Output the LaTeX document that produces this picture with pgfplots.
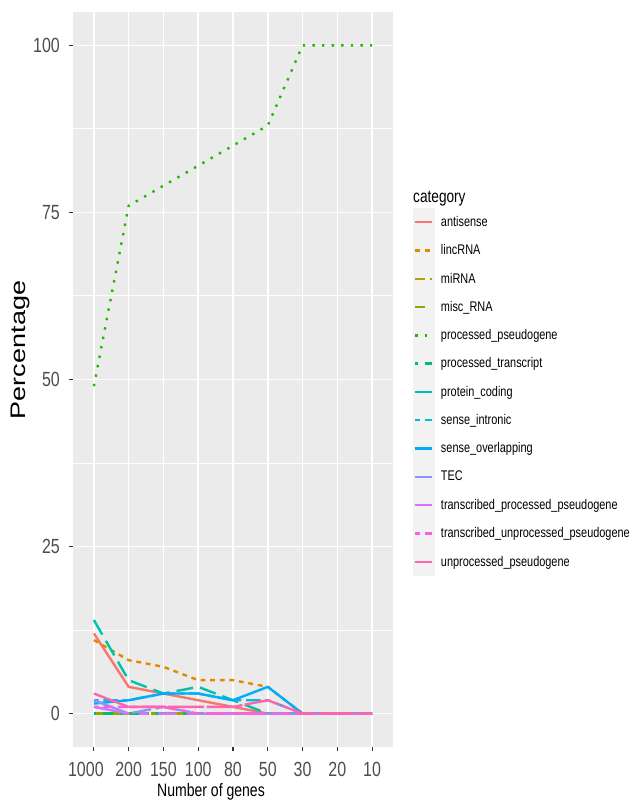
\documentclass[border=0pt]{standalone}
\usepackage{pgfplots}
\pgfplotsset{compat=1.18}
\usepackage{pgfplotstable}
\usepackage{graphicx}
\usepackage{fontspec}
\setmainfont{Liberation Sans}[FakeStretch=0.78]
\newfontfamily\plainsans{Liberation Sans}

\definecolor{c1}{HTML}{F8766D}
\definecolor{c2}{HTML}{E18A00}
\definecolor{c3}{HTML}{BE9C00}
\definecolor{c4}{HTML}{8CAB00}
\definecolor{c5}{HTML}{24B700}
\definecolor{c6}{HTML}{00BE70}
\definecolor{c7}{HTML}{00C1AB}
\definecolor{c8}{HTML}{00BBDA}
\definecolor{c9}{HTML}{00ACFC}
\definecolor{c10}{HTML}{8B93FF}
\definecolor{c11}{HTML}{D575FE}
\definecolor{c12}{HTML}{F962DD}
\definecolor{c13}{HTML}{FF65AC}
\definecolor{panelbg}{HTML}{EBEBEB}
\definecolor{legkey}{HTML}{F2F2F2}
\definecolor{grey20}{HTML}{333333}
\definecolor{grey30}{HTML}{4D4D4D}

\pgfplotstableread{
x a l mi mr pp pt pc si so tec tpp tup up
0 12 11 0 0 49 0 14 2 1.5 2 1 1 3
1 4 8 0 0 76 0 5 2 2 0 0 1 1
2 3 7 0 0 79 0 3 3 3 1 0 1 1
3 2 5 0 0 82 0 4 3 3 0 0 0 1
4 1 5 0 0 85 0 2 2 2 0 0 0 1
5 0 4 0 0 88 0 0 2 4 0 0 0 2
6 0 0 0 0 100 0 0 0 0 0 0 0 0
7 0 0 0 0 100 0 0 0 0 0 0 0 0
8 0 0 0 0 100 0 0 0 0 0 0 0 0
}\datatab

\tikzset{
  gl/.style={line width=2.4bp, line join=round, line cap=butt},
}

\begin{document}
\begin{tikzpicture}
\path[use as bounding box] (-73bp,-54bp) rectangle (561bp,747bp);
\begin{axis}[
  at={(0,0)}, anchor=south west,
  scale only axis, width=320bp, height=735bp,
  xmin=-0.6, xmax=8.6, ymin=-5, ymax=105,
  xtick={0,...,8}, xticklabels={1000\rule{16bp}{0pt},200,150,100,80,50,30,20,10},
  ytick={0,25,50,75,100}, minor ytick={12.5,37.5,62.5,87.5},
  grid=both,
  major grid style={white, line width=1.6bp},
  minor grid style={white, line width=1.0bp},
  axis background/.style={fill=panelbg},
  separate axis lines,
  axis line style={draw=none},
  tick align=outside, major tick length=4bp, minor tick length=0pt,
  xtick pos=bottom, ytick pos=left,
  tick style={color=grey20, line width=1.1bp},
  /pgf/number format/assume math mode=true,
  xticklabel style={font=\fontsize{20.5bp}{22bp}\selectfont, text=grey30, inner sep=0pt, anchor=north, yshift=-11bp},
  yticklabel style={font=\fontsize{20.5bp}{22bp}\selectfont, text=grey30, inner sep=0pt, anchor=east, xshift=-9bp},
  xlabel={Number of genes},
  xlabel style={at={(0.43125,-0.06803)}, anchor=base, font=\fontsize{18bp}{20bp}\selectfont, inner sep=0pt},
  ylabel={\plainsans\fontsize{27bp}{30bp}\selectfont\scalebox{1}[0.78]{Percentage}},
  ylabel style={at={(-0.15,0.54014)}, anchor=base, inner sep=0pt},
  legend style={at={(1.0625,0.73333)}, anchor=north west, draw=none, fill=none,
    inner sep=0pt, outer sep=0pt, row sep=0pt, column sep=6bp,
    font=\fontsize{14bp}{16bp}\selectfont, nodes={inner sep=0pt}},
  legend cell align=left,
  legend image code/.code={\fill[legkey,draw=none] (0bp,-14.15bp) rectangle (22bp,14.15bp); \draw[#1] (2.5bp,0bp) -- (19.5bp,0bp);},
]
\addplot[gl, c1] table[x=x, y=a] {\datatab};
\addlegendentry{antisense}
\addplot[gl, c2, dash pattern=on 4.8bp off 4.8bp] table[x=x, y=l] {\datatab};
\addlegendentry{lincRNA}
\addplot[gl, c3, dash pattern=on 9.6bp off 4.8bp] table[x=x, y=mi] {\datatab};
\addlegendentry{miRNA}
\addplot[gl, c4, dash pattern=on 9.6bp off 9.6bp] table[x=x, y=mr] {\datatab};
\addlegendentry{misc\_RNA}
\addplot[gl, c5, dash pattern=on 2.4bp off 7.2bp] table[x=x, y=pp] {\datatab};
\addlegendentry{processed\_pseudogene}
\addplot[gl, c6, dash pattern=on 2.4bp off 7.2bp on 9.6bp off 7.2bp] table[x=x, y=pt] {\datatab};
\addlegendentry{processed\_transcript}
\addplot[gl, c7, dash pattern=on 16.8bp off 7.2bp] table[x=x, y=pc] {\datatab};
\addlegendentry{protein\_coding}
\addplot[gl, c8, dash pattern=on 4.8bp off 4.8bp on 14.4bp off 4.8bp] table[x=x, y=si] {\datatab};
\addlegendentry{sense\_intronic}
\addplot[gl, c9] table[x=x, y=so] {\datatab};
\addlegendentry{sense\_overlapping}
\addplot[gl, c10, dash pattern=on 36bp off 4.8bp on 19.2bp off 4.8bp] table[x=x, y=tec] {\datatab};
\addlegendentry{TEC}
\addplot[gl, c11, dash pattern=on 36bp off 9.6bp on 9.6bp off 9.6bp on 19.2bp off 9.6bp on 9.6bp off 9.6bp] table[x=x, y=tpp] {\datatab};
\addlegendentry{transcribed\_processed\_pseudogene}
\addplot[gl, c12, dash pattern=on 4.8bp off 4.8bp on 9.6bp off 4.8bp on 19.2bp off 4.8bp on 36bp off 4.8bp] table[x=x, y=tup] {\datatab};
\addlegendentry{transcribed\_unprocessed\_pseudogene}
\addplot[gl, c13, dash pattern=on 36bp off 2.4bp] table[x=x, y=up] {\datatab};
\addlegendentry{unprocessed\_pseudogene}
\end{axis}
\node[anchor=base west, inner sep=0pt, font=\fontsize{17.5bp}{19bp}\selectfont] at (340bp,544bp) {category};
\end{tikzpicture}
\end{document}
